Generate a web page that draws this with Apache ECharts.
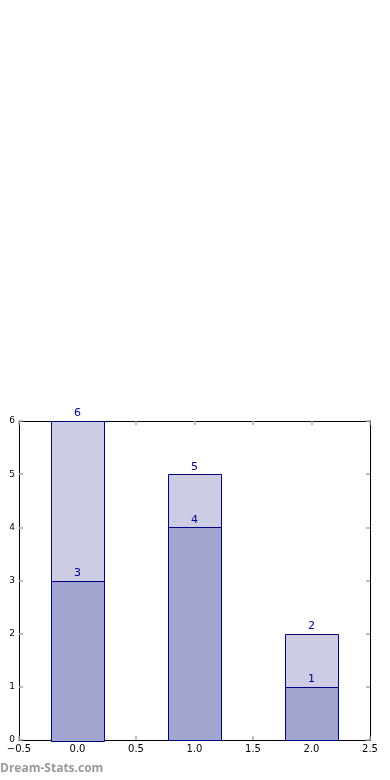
<!DOCTYPE html>
<html><head><meta charset="utf-8">
<script src="https://cdn.jsdelivr.net/npm/echarts@6/dist/echarts.min.js"></script>
<style>html,body{margin:0;padding:0;background:#fff}#c{width:390px;height:780px}</style>
</head><body><div id="c"></div>
<script>
var positions = [0, 1, 2];
var lowerValues = [3, 4, 1];
var upperValues = [6, 5, 2];
var xTicks = [-0.5, 0, 0.5, 1, 1.5, 2, 2.5];
var barWidthUnits = 0.45;

function fmtX(v){ var s = v.toFixed(1); return s.replace('-', '\u2212'); }

function makeSeries(vals, fill, z){
  return {
    type: 'custom', z: z,
    data: positions.map(function(p,i){ return [p, vals[i]]; }),
    renderItem: function(params, api){
      var x = api.value(0), y = api.value(1);
      var p0 = api.coord([x - barWidthUnits/2, y]);
      var p1 = api.coord([x + barWidthUnits/2, 0]);
      var top = api.coord([x, y]);
      return {type:'group', children:[
        {type:'rect', shape:{x:Math.round(p0[0])+0.5, y:Math.round(p0[1])+0.5, width:Math.round(p1[0]-p0[0]), height:Math.round(p1[1]-p0[1])},
         style:{fill:fill, stroke:'#000080', lineWidth:1}},
        {type:'text', x: top[0], y: top[1]-2, style:{text:String(y), fill:'#00008B', font:'11px "DejaVu Sans"', align:'center', verticalAlign:'bottom'}}
      ]};
    }
  };
}

var chart = echarts.init(document.getElementById('c'));
var tickStyle = {show:true, inside:true, length:4, lineStyle:{color:'#aaaaaa', width:1.5}};
var lineStyle = {show:true, onZero:false, lineStyle:{color:'#000', width:1}};
chart.setOption({
  animation:false,
  grid:{left:19, right:20, top:421, bottom:40},
  xAxis:[
    {type:'value', min:-0.5, max:2.5, interval:0.5, position:'bottom',
     axisLine:lineStyle, axisTick:tickStyle,
     axisLabel:{show:true, color:'#000', fontSize:10, fontFamily:'DejaVu Sans', margin:4, formatter:fmtX},
     splitLine:{show:false}},
    {type:'value', min:-0.5, max:2.5, interval:0.5, position:'top',
     axisLine:lineStyle, axisTick:tickStyle,
     axisLabel:{show:false}, splitLine:{show:false}}
  ],
  yAxis:[
    {type:'value', min:0, max:6, interval:1, position:'left',
     axisLine:lineStyle, axisTick:tickStyle,
     axisLabel:{show:true, color:'#000', fontSize:9, fontFamily:'DejaVu Sans', margin:4},
     splitLine:{show:false}},
    {type:'value', min:0, max:6, interval:1, position:'right',
     axisLine:lineStyle, axisTick:tickStyle,
     axisLabel:{show:false}, splitLine:{show:false}}
  ],
  graphic:[{type:'text', left:0, top:763, z:100, style:{text:'Dream-Stats.com', fill:'#999999', font:'bold 12px "Open Sans"'}}],
  series:[makeSeries(upperValues, '#ccccE5', 2), makeSeries(lowerValues, '#a3a5d1', 3)]
});
</script></body></html>
